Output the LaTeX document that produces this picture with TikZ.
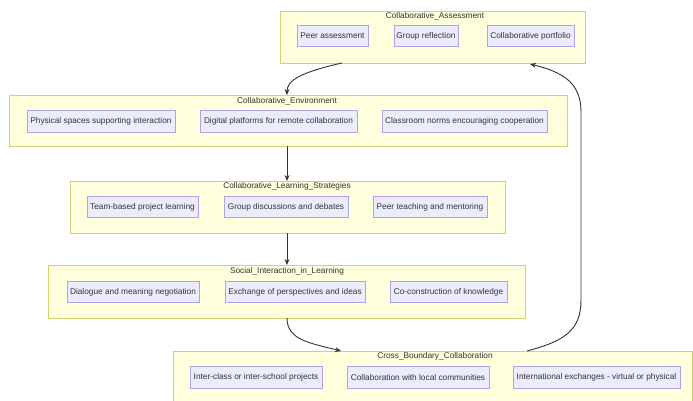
\documentclass[tikz,border=0pt]{standalone}
\usepackage{fontspec}
\setmainfont{Liberation Sans}
\usetikzlibrary{arrows.meta}
\definecolor{clfill}{HTML}{FFFFDE}
\definecolor{cldraw}{HTML}{D2D270}
\definecolor{ndfill}{HTML}{ECECFF}
\definecolor{nddraw}{HTML}{B3A0E6}
\definecolor{txt}{HTML}{333333}
\definecolor{edge}{HTML}{333333}
\tikzset{
  cluster/.style={draw=cldraw, fill=clfill, line width=0.8pt, inner sep=0pt, anchor=north west},
  cltitle/.style={text=txt, font=\fontsize{8.3}{10}\selectfont, inner sep=0pt},
  item/.style={draw=nddraw, fill=ndfill, line width=0.8pt, inner sep=0pt, text=txt,
    font=\fontsize{8.3}{10}\selectfont, minimum height=21.5pt},
  conn/.style={draw=edge, line width=0.9pt, -{Stealth[length=6pt,width=5pt]}}
}
\begin{document}
\begin{tikzpicture}[x=1pt, y=-1pt]
\useasboundingbox (0,0) rectangle (693,401);
% clusters
\node[cluster, minimum width=305pt, minimum height=52pt] (ca) at (280,11) {};
\node[cltitle] (cat) at (435,16.5) {Collaborative\_Assessment};
\node[cluster, minimum width=558pt, minimum height=51pt] (ce) at (9,95) {};
\node[cltitle] (cet) at (287,101) {Collaborative\_Environment};
\node[cluster, minimum width=435pt, minimum height=52pt] (cs) at (70,181) {};
\node[cltitle] (cst) at (287,186.5) {Collaborative\_Learning\_Strategies};
\node[cluster, minimum width=477pt, minimum height=53pt] (si) at (48,265) {};
\node[cltitle] (sit) at (287,271) {Social\_Interaction\_in\_Learning};
\node[cluster, minimum width=519pt, minimum height=52pt] (cb) at (173,351) {};
\node[cltitle] (cbt) at (435,356.5) {Cross\_Boundary\_Collaboration};
% items
\node[item, minimum width=71pt] (a1) at (332.5,36) {Peer assessment};
\node[item, minimum width=64pt] (a2) at (426,36) {Group reflection};
\node[item, minimum width=87pt] (a3) at (530.5,36) {Collaborative portfolio};
\node[item, minimum width=148pt] (e1) at (101,121.5) {Physical spaces supporting interaction};
\node[item, minimum width=157pt] (e2) at (278.5,121.5) {Digital platforms for remote collaboration};
\node[item, minimum width=165pt] (e3) at (464.5,121.5) {Classroom norms encouraging cooperation};
\node[item, minimum width=111pt] (s1) at (142.5,207) {Team-based project learning};
\node[item, minimum width=124pt] (s2) at (286,207) {Group discussions and debates};
\node[item, minimum width=114pt] (s3) at (430,207) {Peer teaching and mentoring};
\node[item, minimum width=132pt] (i1) at (133,292) {Dialogue and meaning negotiation};
\node[item, minimum width=140pt] (i2) at (295,292) {Exchange of perspectives and ideas};
\node[item, minimum width=117pt] (i3) at (448.5,292) {Co-construction of knowledge};
\node[item, minimum width=132pt] (b1) at (256,377.5) {Inter-class or inter-school projects};
\node[item, minimum width=142pt] (b2) at (418,377.5) {Collaboration with local communities};
\node[item, minimum width=167pt] (b3) at (596.5,377.5) {International exchanges - virtual or physical};
% connector end points on cluster borders
\coordinate (p1) at (342,63);
\coordinate (p2) at (287,95);
\coordinate (p3) at (287,146);
\coordinate (p4) at (287,181);
\coordinate (p5) at (287,233);
\coordinate (p6) at (287,265);
\coordinate (p7) at (287,318);
\coordinate (p8) at (341,351);
\coordinate (p9) at (527,351);
\coordinate (p10) at (530,64);
% connectors
\draw[conn] (p1) .. controls (302,72) and (287,80) .. (p2);
\draw[conn] (p3) -- (p4);
\draw[conn] (p5) -- (p6);
\draw[conn] (p7) .. controls (287,340) and (310,343) .. (p8);
\draw[conn] (p9) .. controls (565,341) and (581,330) .. (581,300) -- (581,112) .. controls (581,82) and (562,72) .. (p10);
\end{tikzpicture}
\end{document}
